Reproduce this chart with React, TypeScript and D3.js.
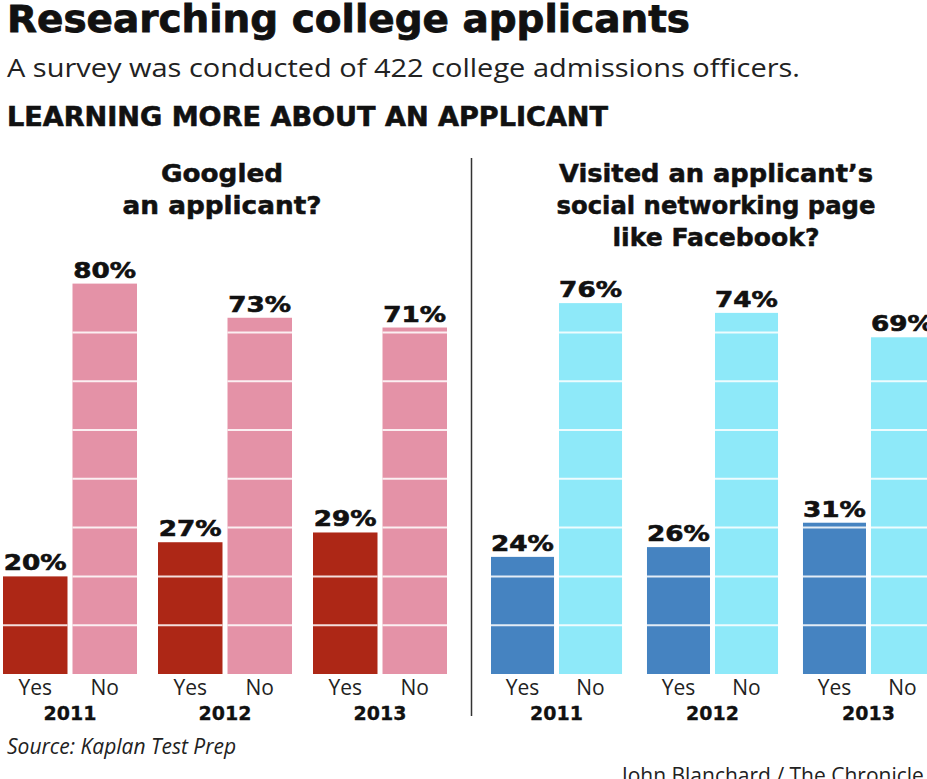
import React from 'react';
import * as d3 from 'd3';

// survey values, percent of admissions officers
const years = ['2011', '2012', '2013'];
const answers = ['Yes', 'No'];
const googledYes = [20, 27, 29];
const googledNo = [80, 73, 71];
const socialYes = [24, 26, 31];
const socialNo = [76, 74, 69];
const googledTitle = ['Googled', 'an applicant?'];
const socialTitle = ["Visited an applicant\u2019s", 'social networking page', 'like Facebook?'];

const W = 927, H = 779;
const BOLD = "'DejaVu Sans', sans-serif";
const REG = "'Open Sans', sans-serif";

const y = d3.scaleLinear().domain([0, 100]).range([674, 186]);

type PanelProps = {
  title: string[];
  titleWidths: number[];
  titleX: number;
  yes: number[];
  no: number[];
  range: [number, number];
  pad: number;
  innerPad: number;
  colors: [string, string];
};

function Panel({ title, titleWidths, titleX, yes, no, range, pad, innerPad, colors }: PanelProps) {
  const x0 = d3.scaleBand<string>().domain(years).range(range).paddingInner(pad).paddingOuter(0);
  const x1 = d3.scaleBand<string>().domain(answers).range([0, x0.bandwidth()]).paddingInner(innerPad);
  const color = d3.scaleOrdinal<string, string>().domain(answers).range(colors);
  const ticks = y.ticks(10).filter((t) => t > 0 && t < 100);
  const bw = x1.bandwidth();

  return (
    <g>
      {title.map((line, i) => (
        <text key={line} x={titleX} y={182 + i * 32} textAnchor="middle"
          fontFamily={BOLD} fontWeight="bold" fontSize={24} fill="#111"
          stroke="#111" strokeWidth={0.5}
          textLength={titleWidths[i]} lengthAdjust="spacingAndGlyphs">{line}</text>
      ))}
      {years.map((yr, i) => {
        const gx = x0(yr) as number;
        const vals = [yes[i], no[i]];
        return (
          <g key={yr}>
            {answers.map((a, j) => {
              const v = vals[j];
              const bx = gx + (x1(a) as number);
              const cx = bx + bw / 2;
              return (
                <g key={a}>
                  <rect x={bx} y={y(v)} width={bw} height={y(0) - y(v)} fill={color(a)} />
                  {ticks.filter((t) => t < v).map((t) => (
                    <line key={t} x1={bx} x2={bx + bw} y1={y(t)} y2={y(t)}
                      stroke="#fff" strokeOpacity={0.85} strokeWidth={2} />
                  ))}
                  <g transform={`translate(${cx},${y(v) - 6}) scale(1.25,1)`}>
                    <text textAnchor="middle" fontFamily={BOLD} fontWeight="bold"
                      fontSize={21} fill="#111" stroke="#111" strokeWidth={0.6}>{v}%</text>
                  </g>
                  <text x={cx} y={695} textAnchor="middle" fontFamily={REG}
                    fontSize={21} fill="#222">{a}</text>
                </g>
              );
            })}
            <text x={gx + x0.bandwidth() / 2} y={720} textAnchor="middle" fontFamily={BOLD}
              fontWeight="bold" fontSize={19} fill="#111" stroke="#111" strokeWidth={0.3}>{yr}</text>
          </g>
        );
      })}
    </g>
  );
}

export default function App() {
  return (
    <svg width={W} height={H} style={{ position: 'absolute', left: 0, top: 0, background: '#fff' }}>
      <text x={7} y={32} fontFamily={BOLD} fontWeight="bold" fontSize={37} fill="#111"
        stroke="#111" strokeWidth={0.8}
        textLength={683} lengthAdjust="spacingAndGlyphs">Researching college applicants</text>
      <text x={7} y={77} fontFamily={REG} fontSize={25} fill="#222"
        textLength={793} lengthAdjust="spacingAndGlyphs">A survey was conducted of 422 college admissions officers.</text>
      <text x={7} y={126} fontFamily={BOLD} fontWeight="bold" fontSize={26} fill="#111"
        stroke="#111" strokeWidth={0.6}
        textLength={601} lengthAdjust="spacingAndGlyphs">LEARNING MORE ABOUT AN APPLICANT</text>

      <line x1={471.5} x2={471.5} y1={158} y2={716} stroke="#333" strokeWidth={1.5} />

      <Panel title={googledTitle} titleWidths={[122, 199]} titleX={222}
        yes={googledYes} no={googledNo} range={[3, 447]} pad={0.1355} innerPad={0.072}
        colors={['#ad2716', '#e492a7']} />
      <Panel title={socialTitle} titleWidths={[314, 319, 207]} titleX={716}
        yes={socialYes} no={socialNo} range={[491, 934]} pad={0.16} innerPad={0.0735}
        colors={['#4583c1', '#8ee9f9']} />

      <text x={7} y={754} fontFamily={REG} fontStyle="italic" fontSize={21} fill="#222">Source: Kaplan Test Prep</text>
      <text x={622} y={783} fontFamily={REG} fontSize={21} fill="#222">John Blanchard / The Chronicle</text>
    </svg>
  );
}
